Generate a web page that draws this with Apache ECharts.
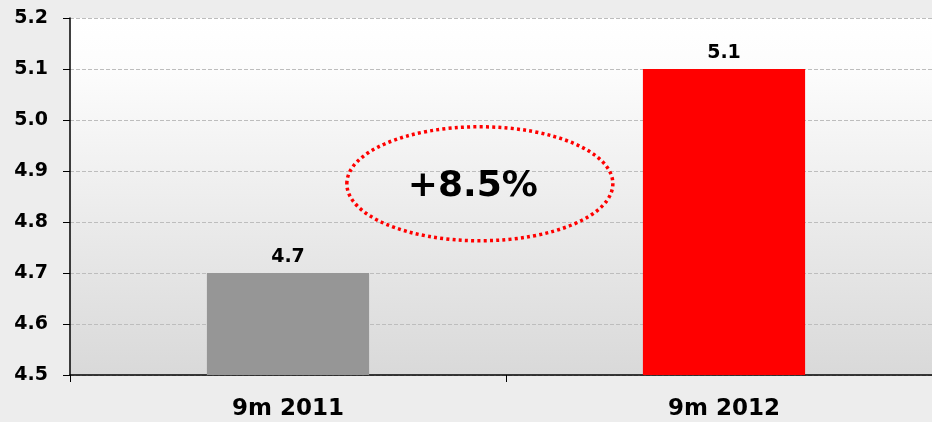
<!DOCTYPE html>
<html>
<head>
<meta charset="utf-8">
<script src="https://cdn.jsdelivr.net/npm/echarts@6/dist/echarts.min.js"></script>
<style>
html,body{margin:0;padding:0;background:#ededed;}
#chart{width:932px;height:422px;}
</style>
</head>
<body>
<div id="chart"></div>
<script>
const categories = ['9m 2011', '9m 2012'];
const values = [4.7, 5.1];
const barColors = ['#969696', '#ff0000'];
const yMin = 4.5, yMax = 5.2, yStep = 0.1;
const growthText = '+8.5%';
// annotation anchor in data terms: fraction between the two categories, value
const annoCatFrac = 0.44;
const annoValue = 4.875;

const FONT = '"DejaVu Sans", Verdana, sans-serif';
const chart = echarts.init(document.getElementById('chart'));

const option = {
  backgroundColor: '#ededed',
  animation: false,
  grid: {
    left: 70, top: 18, width: 872, bottom: 47,
    outerBoundsMode: 'none',
    show: true, borderWidth: 0,
    backgroundColor: {
      type: 'linear', x: 0, y: 0, x2: 0, y2: 1,
      colorStops: [{offset: 0, color: '#ffffff'}, {offset: 0.15, color: '#fcfcfc'}, {offset: 1, color: '#d9d9d9'}]
    }
  },
  xAxis: {
    type: 'category',
    data: categories,
    axisLine: {lineStyle: {color: '#000', width: 1.5}},
    axisTick: {show: true, length: 7, lineStyle: {color: '#000'}},
    axisLabel: {color: '#000', fontFamily: FONT, fontWeight: 'bold', fontSize: 23, margin: 23}
  },
  yAxis: {
    type: 'value', min: yMin, max: yMax, interval: yStep,
    axisLine: {show: true, lineStyle: {color: '#000', width: 1.5}},
    axisTick: {show: true, length: 7, lineStyle: {color: '#000'}},
    axisLabel: {color: '#000', fontFamily: FONT, fontWeight: 'bold', fontSize: 19, margin: 22,
      formatter: v => v.toFixed(1)},
    splitLine: {show: true, lineStyle: {color: '#bdbdbd', type: [4, 2], width: 1}}
  },
  series: [{
    type: 'bar',
    data: values.map((v, i) => ({value: v, itemStyle: {color: barColors[i]}})),
    barWidth: '37.2%',
    label: {show: true, position: 'top', distance: 6, color: '#000',
      fontFamily: FONT, fontWeight: 'bold', fontSize: 19,
      formatter: p => p.value.toFixed(1)}
  }]
};
chart.setOption(option);

const p0 = chart.convertToPixel({xAxisIndex: 0, yAxisIndex: 0}, [0, annoValue]);
const p1 = chart.convertToPixel({xAxisIndex: 0, yAxisIndex: 0}, [1, annoValue]);
const cx = p0[0] + (p1[0] - p0[0]) * annoCatFrac;
const cy = p0[1];
chart.setOption({
  graphic: [
    {
      type: 'ellipse', shape: {cx: cx, cy: cy, rx: 133, ry: 57},
      style: {fill: 'none', stroke: '#ff0000', lineWidth: 3.5, lineDash: [3, 3.2], lineCap: 'butt'},
      z: 100
    },
    {
      type: 'text', x: cx - 7, y: cy + 3,
      style: {text: growthText, fill: '#000', font: 'bold 36px ' + FONT, align: 'center', verticalAlign: 'middle'},
      z: 101
    }
  ]
});
</script>
</body>
</html>
